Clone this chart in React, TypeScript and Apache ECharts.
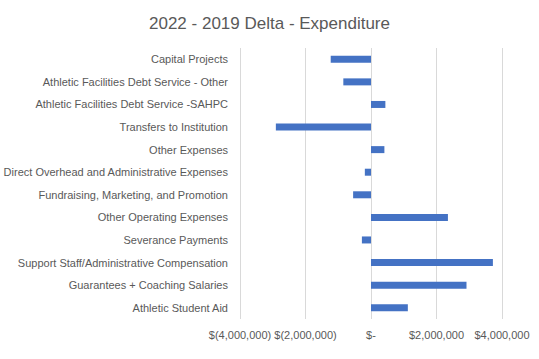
import React, { useEffect, useRef } from "react";
import * as echarts from "echarts";

const categories = [
  "Capital Projects",
  "Athletic Facilities Debt Service - Other",
  "Athletic Facilities Debt Service -SAHPC",
  "Transfers to Institution",
  "Other Expenses",
  "Direct Overhead and Administrative Expenses",
  "Fundraising, Marketing, and Promotion",
  "Other Operating Expenses",
  "Severance Payments",
  "Support Staff/Administrative Compensation",
  "Guarantees + Coaching Salaries",
  "Athletic Student Aid",
];

const deltaValues = [
  -1230000, -845000, 439000, -2905000, 409000, -188000, -546000, 2349000,
  -278000, 3722000, 2916000, 1125000,
];

const titleText = "2022 - 2019 Delta - Expenditure";

function fmt(v: number): string {
  if (v === 0) return "$-";
  const s = Math.abs(v).toLocaleString("en-US");
  return v < 0 ? "$(" + s + ")" : "$" + s;
}

export default function App() {
  const ref = useRef<HTMLDivElement>(null);
  useEffect(() => {
    document.body.style.margin = "0";
    if (!ref.current) return;
    const chart = echarts.init(ref.current, undefined, { renderer: "svg" });
    const font = "Liberation Sans, Arial, sans-serif";
    chart.setOption({
      animation: false,
      title: {
        text: titleText,
        left: "center",
        top: 10,
        textStyle: {
          fontFamily: font,
          fontSize: 17,
          fontWeight: "normal",
          color: "#595959",
        },
      },
      grid: { left: 234, right: 37, top: 48, bottom: 40, containLabel: false },
      xAxis: {
        type: "value",
        min: -4000000,
        max: 4000000,
        interval: 2000000,
        axisLine: { show: false },
        axisTick: { show: false },
        splitLine: { lineStyle: { color: "#d9d9d9", width: 1 } },
        axisLabel: {
          formatter: fmt,
          color: "#595959",
          fontFamily: font,
          fontSize: 11,
          margin: 10,
          interval: 0,
          showMinLabel: true,
          showMaxLabel: true,
          hideOverlap: false,
        },
      },
      yAxis: {
        type: "category",
        data: categories,
        inverse: true,
        axisLine: { show: false },
        axisTick: { show: false },
        splitLine: { show: false },
        axisLabel: {
          color: "#595959",
          fontFamily: font,
          fontSize: 11,
          margin: 12,
          interval: 0,
        },
      },
      series: [
        {
          type: "bar",
          data: deltaValues,
          barWidth: 7,
          itemStyle: { color: "#4472c4" },
        },
      ],
    });
    return () => chart.dispose();
  }, []);
  return <div ref={ref} style={{ width: 539, height: 359 }} />;
}
